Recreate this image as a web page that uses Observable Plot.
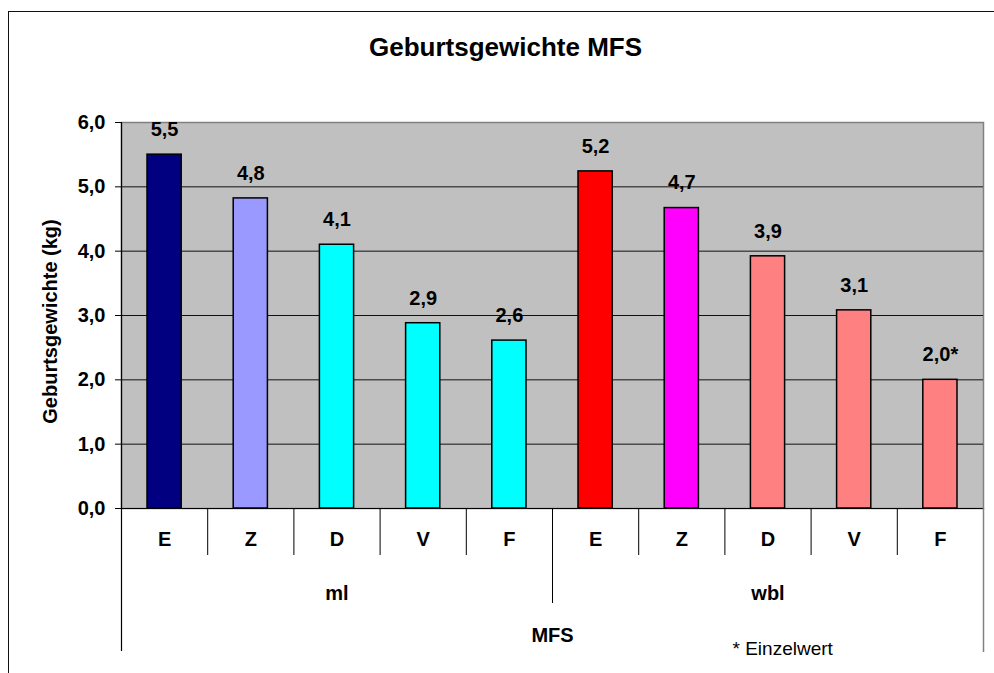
<!DOCTYPE html>
<html>
<head>
<meta charset="utf-8">
<script src="https://cdn.jsdelivr.net/npm/d3@7"></script>
<script src="https://cdn.jsdelivr.net/npm/@observablehq/plot@0.6"></script>
<style>
  body { margin: 0; background: #fff; }
  #wrap { position: relative; width: 994px; height: 673px; overflow: hidden; }
  #border { position: absolute; left: 8px; top: 11px; width: 1000px; height: 700px; border: 1px solid #111; box-sizing: border-box; pointer-events: none; }
  #chart { position: absolute; left: 0; top: 0; }
</style>
</head>
<body>
<div id="wrap"><div id="chart"></div><div id="border"></div></div>
<script>
const categories = ["E", "Z", "D", "V", "F", "E", "Z", "D", "V", "F"];
const groups = ["ml", "ml", "ml", "ml", "ml", "wbl", "wbl", "wbl", "wbl", "wbl"];
const values = [5.5, 4.82, 4.1, 2.88, 2.61, 5.24, 4.67, 3.92, 3.08, 2.0];
const valueLabels = ["5,5", "4,8", "4,1", "2,9", "2,6", "5,2", "4,7", "3,9", "3,1", "2,0*"];
const colors = ["#000080", "#9999FF", "#00FFFF", "#00FFFF", "#00FFFF", "#FF0000", "#FF00FF", "#FF8080", "#FF8080", "#FF8080"];
const groupNames = ["ml", "wbl"];
const yTicks = [0, 1, 2, 3, 4, 5, 6];
const titleText = "Geburtsgewichte MFS";
const yTitle = "Geburtsgewichte (kg)";
const xTitle = "MFS";
const noteText = "* Einzelwert";

const data = values.map((v, i) => ({i, cat: categories[i], group: groups[i], value: v, label: valueLabels[i], color: colors[i]}));
const groupData = groupNames.map(g => ({g, center: d3.mean(data.filter(d => d.group === g), d => d.i + 0.5)}));
const n = categories.length;
const inner = d3.range(1, n).filter(b => b !== n / 2);
const fmt = d => d.toFixed(1).replace(".", ",");

const FONT = "Arial, 'Liberation Sans', sans-serif";
const T = {fill: "#000", fontWeight: "bold", fontSize: 20, lineAnchor: "middle", textAnchor: "middle"};

const chart = Plot.plot({
  width: 994,
  height: 673,
  marginLeft: 121,
  marginRight: 11,
  marginTop: 122,
  marginBottom: 165,
  style: {fontFamily: FONT, fontSize: "20px", fontWeight: "bold", color: "#000", background: "transparent", overflow: "visible"},
  x: {type: "linear", domain: [0, n], axis: null},
  y: {domain: [0, 6], ticks: yTicks, tickFormat: fmt, label: null, axis: null},
  marks: [
    Plot.frame({fill: "#C0C0C0", stroke: "#808080", strokeWidth: 1.5}),
    Plot.ruleY(yTicks.filter(t => t > 0 && t < 6), {stroke: "#111", strokeWidth: 1}),
    Plot.rectY(data, {x1: d => d.i, x2: d => d.i + 1, y: "value", fill: "color", stroke: "#000", strokeWidth: 1.5, insetLeft: 26, insetRight: 26}),
    Plot.text(data, {...T, x: d => d.i + 0.5, y: "value", text: "label", dy: -25}),
    Plot.ruleY([0], {stroke: "#000", strokeWidth: 1.2}),
    Plot.ruleX(inner, {x: d => d, insetTop: 386, insetBottom: -47, stroke: "#000", strokeWidth: 1}),
    Plot.ruleX([n / 2], {x: d => d, insetTop: 386, insetBottom: -95, stroke: "#000", strokeWidth: 1}),
    Plot.ruleX([0], {x: d => d, insetBottom: -143, stroke: "#000", strokeWidth: 1.2}),
    Plot.ruleX([n], {x: d => d, insetTop: 386, insetBottom: -144, stroke: "#808080", strokeWidth: 1.5}),
    Plot.axisY({ticks: yTicks, tickSize: 6, tickPadding: 10, tickFormat: fmt, fontSize: 20, fontWeight: "bold", label: null, stroke: "#000"}),
    Plot.text(data, {...T, x: d => d.i + 0.5, text: "cat", frameAnchor: "bottom", dy: 31}),
    Plot.text(groupData, {...T, x: "center", text: "g", frameAnchor: "bottom", dy: 85}),
    Plot.text([xTitle], {...T, text: d => d, frameAnchor: "bottom", dy: 127}),
    Plot.text([noteText], {...T, text: d => d, frameAnchor: "bottom", dx: 180, dy: 140, textAnchor: "start", fontSize: 19, fontWeight: "normal"}),
    Plot.text([titleText], {...T, text: d => d, frameAnchor: "top", dx: -47, dy: -75, fontSize: 26}),
    Plot.text([yTitle], {...T, text: d => d, frameAnchor: "left", dx: -71, dy: 6, rotate: -90})
  ]
});
document.getElementById("chart").appendChild(chart);
</script>
</body>
</html>
